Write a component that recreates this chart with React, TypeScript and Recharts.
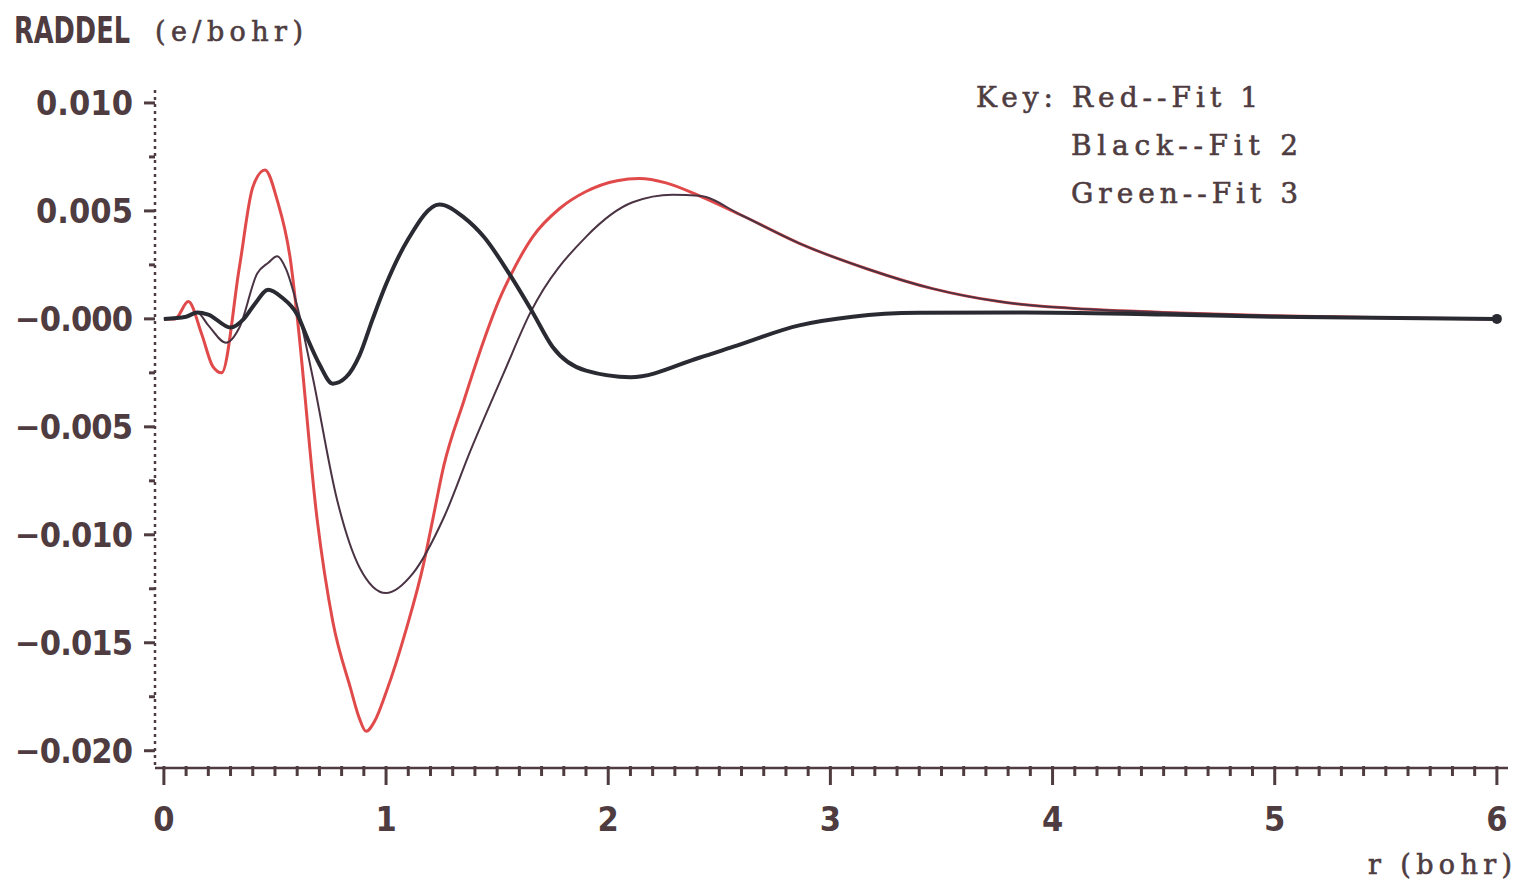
import React from 'react';
import { LineChart, Line, XAxis, YAxis } from 'recharts';

// r (bohr) positions and RADDEL values (e/bohr)
const fit1R = [0, 0.05, 0.11, 0.17, 0.22, 0.26, 0.34, 0.4, 0.455, 0.51, 0.57, 0.6, 0.69, 0.76, 0.84, 0.88, 0.91, 0.95, 1.0, 1.09, 1.17, 1.21, 1.26, 1.35, 1.44, 1.51, 1.56, 1.66, 1.78, 1.9, 2.04, 2.14, 2.26, 2.41, 2.6, 2.86, 3.17, 3.46, 3.76, 4.07, 4.5, 5, 5.5, 6];
const fit1 = [0, 0, 0.0008, -0.0007, -0.0022, -0.0025, 0.0024, 0.0061, 0.0069, 0.0055, 0.0027, 0.0001, -0.0093, -0.014, -0.0171, -0.0185, -0.0191, -0.0186, -0.0173, -0.0144, -0.0113, -0.0093, -0.0068, -0.0038, -0.001, 0.0009, 0.002, 0.0038, 0.0051, 0.0059, 0.0064, 0.0065, 0.0063, 0.0057, 0.0048, 0.0035, 0.0023, 0.0014, 0.0008, 0.0005, 0.0003, 0.00014, 0.00005, 0];

const fit2R = [0, 0.1, 0.15, 0.2, 0.28, 0.34, 0.42, 0.47, 0.51, 0.55, 0.6, 0.67, 0.78, 0.88, 1, 1.12, 1.26, 1.38, 1.53, 1.65, 1.9, 2.11, 2.29, 2.41, 2.6, 2.86, 3.17, 3.46, 3.76, 4.07, 4.5, 5, 5.5, 6];
const fit2 = [0, 0.0001, 0.0003, -0.0003, -0.0011, -0.0004, 0.0021, 0.0026, 0.0029, 0.0023, 0.0006, -0.0027, -0.0084, -0.0115, -0.0127, -0.0118, -0.0092, -0.0061, -0.0025, 0.0003, 0.0038, 0.0054, 0.00575, 0.0057, 0.0048, 0.0035, 0.0023, 0.0014, 0.0008, 0.0005, 0.0003, 0.00014, 0.00005, 0];

const fit3R = [0, 0.1, 0.15, 0.2, 0.3, 0.36, 0.41, 0.47, 0.53, 0.6, 0.65, 0.7, 0.76, 0.82, 0.88, 0.94, 1, 1.1, 1.24, 1.35, 1.44, 1.56, 1.66, 1.75, 1.9, 2.1, 2.41, 2.56, 2.86, 3.1, 3.4, 3.87, 4.5, 5, 6];
const fit3 = [0, 0.0001, 0.0003, 0.0002, -0.0004, 0, 0.0007, 0.00135, 0.001, 0.0002, -0.001, -0.0021, -0.003, -0.0027, -0.0017, 0, 0.0016, 0.0037, 0.0053, 0.0047, 0.0038, 0.002, 0.0003, -0.0013, -0.0024, -0.0027, -0.0018, -0.0013, -0.0003, 0.0001, 0.00028, 0.0003, 0.0002, 0.0001, 0];

const xLabels = [0, 1, 2, 3, 4, 5, 6];
const yLabels = [0.01, 0.005, 0, -0.005, -0.01, -0.015, -0.02];
const keyLines = ['Key: Red--Fit 1', 'Black--Fit 2', 'Green--Fit 3'];

// minor tick positions (every 0.1 bohr, every 0.0025 e/bohr)
const xTicks = Array.from({ length: 61 }, (_, i) => Math.round(i * 10) / 100);
const yTicks = Array.from({ length: 13 }, (_, i) => Math.round((0.01 - i * 0.0025) * 10000) / 10000);

const toRows = (rs: number[], vs: number[]) => rs.map((r, i) => ({ r, v: vs[i] }));

const INK = '#4e3c40';
const NUM_FONT = "'DejaVu Sans Condensed', 'DejaVu Sans', sans-serif";
const TYPE_FONT = "'DejaVu Serif', 'Liberation Serif', serif";

const fmtY = (v: number) => {
  if (v === 0) return '\u22120.000';
  return (v < 0 ? '\u2212' : '') + Math.abs(v).toFixed(3);
};

const XTick = (props: any) => {
  const { x, y, payload } = props;
  const v = payload.value;
  const major = xLabels.some((m) => Math.abs(m - v) < 1e-6);
  return (
    <g>
      <line x1={x} x2={x} y1={y - 2} y2={y + (major ? 17 : 8)} stroke={INK} strokeWidth={3} />
      {major && (
        <text x={x} y={y + 51} textAnchor="middle" dominantBaseline="central" fontFamily={NUM_FONT} fontWeight="bold" fontSize={34} fill={INK}>
          {v}
        </text>
      )}
    </g>
  );
};

const YTick = (props: any) => {
  const { x, y, payload } = props;
  const v = payload.value;
  const major = yLabels.some((m) => Math.abs(m - v) < 1e-7);
  const label = fmtY(v);
  return (
    <g>
      <line x1={x - (major ? 11 : 6)} x2={x} y1={y} y2={y} stroke={INK} strokeWidth={3} />
      {major && (
        <text
          x={x - 22}
          y={y}
          textAnchor="end"
          dominantBaseline="central"
          fontFamily={NUM_FONT}
          fontWeight="bold"
          fontSize={34}
          fill={INK}
          textLength={label.length === 6 ? 118 : 97}
          lengthAdjust="spacing"
        >
          {label}
        </text>
      )}
    </g>
  );
};

const endDot = (last: number, color: string) => (props: any) => {
  const { cx, cy, index } = props;
  if (index !== last) return <g key={index} />;
  return <circle key={index} cx={cx} cy={cy} r={5} fill={color} />;
};

const typeStyle = { fontFamily: TYPE_FONT, fill: INK, stroke: INK, strokeWidth: 0.6 };

export default function App() {
  return (
    <div style={{ position: 'absolute', left: 0, top: 0, width: 1524, height: 880, background: '#fff' }}>
      <LineChart width={1524} height={880} margin={{ top: 90, right: 16, bottom: 0, left: 0 }}>
        <XAxis
          type="number"
          dataKey="r"
          domain={[-0.04, 6.05]}
          allowDataOverflow
          ticks={xTicks}
          interval={0}
          tick={<XTick />}
          tickLine={false}
          tickSize={0}
          tickMargin={0}
          height={112}
          axisLine={{ stroke: INK, strokeWidth: 2.5 }}
        />
        <YAxis
          type="number"
          domain={[-0.0208, 0.0106]}
          allowDataOverflow
          ticks={yTicks}
          interval={0}
          tick={<YTick />}
          tickLine={false}
          tickSize={0}
          tickMargin={0}
          width={155}
          axisLine={{ stroke: INK, strokeWidth: 2.5, strokeDasharray: '3 4' }}
        />
        <Line data={toRows(fit1R, fit1)} dataKey="v" type="monotoneX" stroke="#e14a4a" strokeWidth={3} dot={false} isAnimationActive={false} />
        <Line data={toRows(fit2R, fit2)} dataKey="v" type="monotoneX" stroke="#4a3444" strokeWidth={2} dot={false} isAnimationActive={false} />
        <Line data={toRows(fit3R, fit3)} dataKey="v" type="monotoneX" stroke="#2a2a33" strokeWidth={4} dot={endDot(fit3R.length - 1, '#2a2a33')} isAnimationActive={false} />
      </LineChart>
      <svg width={1524} height={880} style={{ position: 'absolute', left: 0, top: 0, pointerEvents: 'none' }}>
        <text x={14} y={43} fontFamily={NUM_FONT} fontWeight="bold" fontSize={38} fill={INK} textLength={116} lengthAdjust="spacingAndGlyphs">
          RADDEL
        </text>
        <text x={155} y={41} {...typeStyle} fontSize={27} textLength={148} lengthAdjust="spacing">
          (e/bohr)
        </text>
        <text x={976} y={107} {...typeStyle} fontSize={28} textLength={282} lengthAdjust="spacing">
          {keyLines[0]}
        </text>
        <text x={1071} y={155} {...typeStyle} fontSize={28} textLength={227} lengthAdjust="spacing">
          {keyLines[1]}
        </text>
        <text x={1071} y={203} {...typeStyle} fontSize={28} textLength={227} lengthAdjust="spacing">
          {keyLines[2]}
        </text>
        <text x={1368} y={874} {...typeStyle} fontSize={27} textLength={144} lengthAdjust="spacing">
          r (bohr)
        </text>
      </svg>
    </div>
  );
}
